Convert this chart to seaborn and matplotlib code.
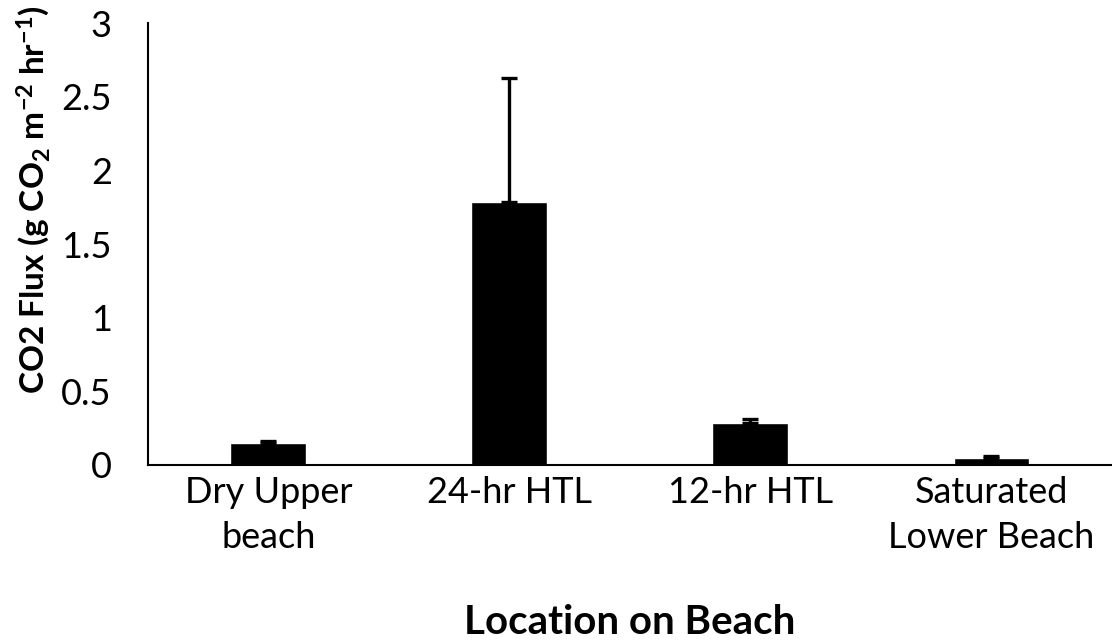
import matplotlib
matplotlib.use("Agg")
import matplotlib.pyplot as plt
import seaborn as sns
import numpy as np
import pandas as pd

locations = ["Dry Upper\nbeach", "24-hr HTL", "12-hr HTL", "Saturated\nLower Beach"]
flux = [0.147, 1.785, 0.283, 0.045]
flux_err = [0.015, 0.84, 0.03, 0.014]

sns.set_theme(style="white")
plt.rcParams["font.family"] = ["Lato", "DejaVu Sans"]
plt.rcParams["text.color"] = "black"
plt.rcParams["axes.labelcolor"] = "black"
plt.rcParams["mathtext.fontset"] = "custom"
plt.rcParams["mathtext.rm"] = "Lato:bold"
plt.rcParams["mathtext.bf"] = "Lato:bold"
plt.rcParams["mathtext.it"] = "Lato:bold"

df = pd.DataFrame({"location": locations, "flux": flux})

fig = plt.figure(figsize=(11.12, 6.41), dpi=100)
ax = fig.add_axes([0.133, 0.2746, 0.867, 0.6894])

sns.barplot(data=df, x="location", y="flux", color="black", width=0.315,
            saturation=1, errorbar=None, ax=ax)
ax.errorbar(np.arange(len(flux)), flux, yerr=[np.zeros(len(flux)), flux_err],
            fmt="none", ecolor="black", elinewidth=2.4, capsize=6, capthick=2.4)

ax.set_xlim(-0.5, 3.5)
ax.set_ylim(0, 3)
ax.set_yticks([0, 0.5, 1, 1.5, 2, 2.5, 3])
ax.set_yticklabels(["0", "0.5", "1", "1.5", "2", "2.5", "3"])
ax.tick_params(axis="both", length=0, labelsize=26, colors="black")
ax.tick_params(axis="y", pad=26)
ax.tick_params(axis="x", pad=8)
for lbl in ax.get_xticklabels():
    lbl.set_verticalalignment("top")
    lbl.set_linespacing(1.45)

for side in ["top", "right"]:
    ax.spines[side].set_visible(False)
for side in ["left", "bottom"]:
    ax.spines[side].set_color("black")
    ax.spines[side].set_linewidth(1.5)

ax.set_xlabel("Location on Beach", fontsize=29, fontweight="bold")
ax.xaxis.set_label_coords(0.5, -0.357, transform=ax.transAxes)
ax.xaxis.label.set_verticalalignment("center")

ax.set_ylabel(r"CO2 Flux (g CO$_{2}$ m$^{-2}$ hr$^{-1}$)",
              fontsize=24, fontweight="bold")
ax.yaxis.set_label_coords(-0.119, 0.60, transform=ax.transAxes)
ax.yaxis.label.set_verticalalignment("center")

fig.savefig("out.png", dpi=100)
